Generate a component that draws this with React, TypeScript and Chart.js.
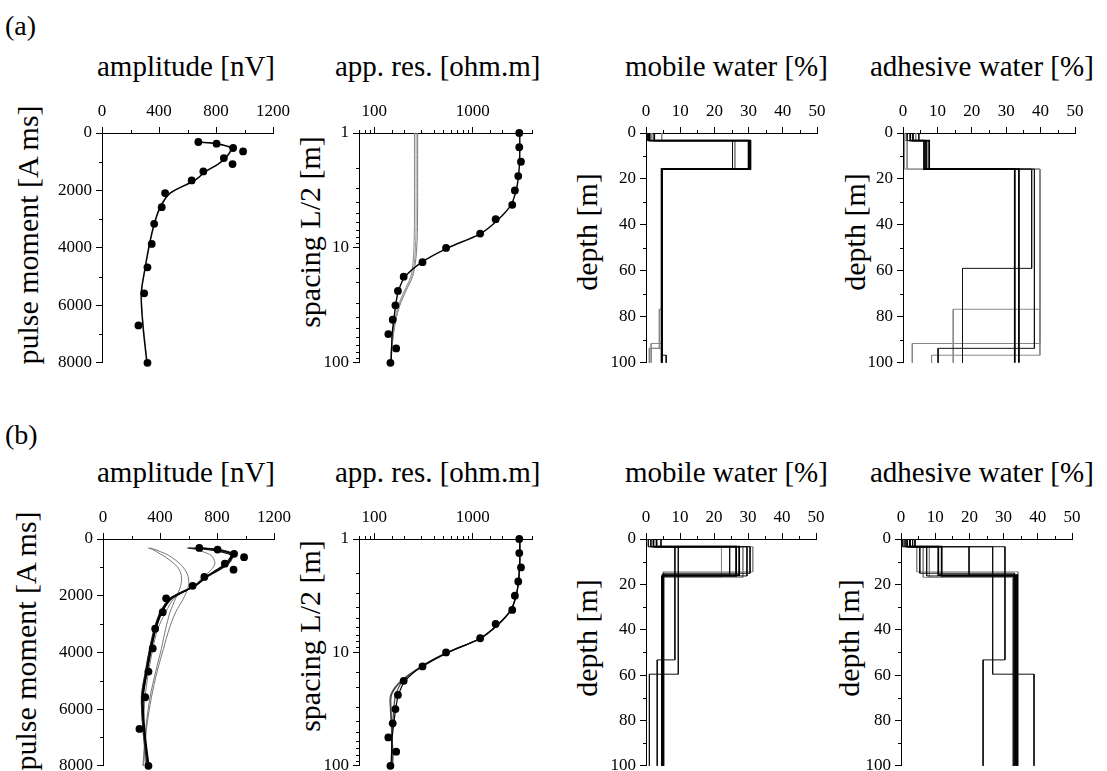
import React, { useEffect, useRef } from "react";
import { Chart, registerables } from "chart.js";
Chart.register(...registerables);

// ---------------- data ----------------
const PULSE_MOMENTS = [314, 372, 523, 640, 872, 1081, 1337, 1651, 2093, 2581, 3163, 3861, 4675, 5582, 6698, 8000];
const AMP_DATA = [676, 804, 920, 990, 855, 916, 711, 629, 443, 419, 366, 349, 319, 296, 256, 319];
const AMP_FIT_A1 = [676, 804, 915, 900, 866, 815, 728, 650, 478, 408, 366, 333, 303, 275, 287, 315];
const AMP_FIT_A2 = [680, 800, 905, 906, 872, 818, 730, 654, 482, 412, 370, 336, 306, 278, 290, 318];
const AMP_FIT_B1 = [676, 800, 915, 905, 870, 810, 725, 645, 478, 408, 366, 333, 303, 275, 287, 315];
const AMP_FIT_B2 = [640, 770, 900, 910, 880, 820, 730, 645, 475, 405, 362, 330, 300, 272, 280, 310];
const AMP_FIT_B3 = [600, 740, 885, 900, 875, 815, 728, 648, 480, 412, 370, 338, 308, 280, 285, 320];
const AMP_FIT_B4 = [690, 815, 925, 912, 865, 805, 720, 640, 470, 402, 360, 328, 298, 270, 283, 318];
const AMP_FIT_B5 = [660, 790, 905, 895, 860, 800, 722, 648, 485, 415, 372, 340, 310, 282, 292, 322];
const AMP_OUT_B1 = [316, 350, 400, 440, 500, 535, 551, 545, 510, 470, 440, 410, 370, 330, 300, 280];
const AMP_OUT_B2 = [330, 365, 440, 480, 540, 575, 598, 600, 565, 510, 465, 425, 380, 340, 305, 285];
const AMP_OUT_B3 = [586, 650, 740, 770, 785, 760, 705, 640, 500, 440, 385, 350, 320, 295, 285, 300];

const SPACINGS = [1, 1.33, 1.78, 2.37, 3.16, 4.22, 5.62, 7.5, 10, 13.3, 17.8, 23.7, 31.6, 42.2, 56.2, 75, 100];
const RES_DATA = [2970, 2970, 3090, 2900, 2680, 2520, 1710, 1190, 536, 309, 199, 174, 164, 154, 139, 167, 146];
const RES_FIT_A = [3000, 3010, 2990, 2920, 2760, 2450, 1830, 1200, 560, 305, 206, 176, 165, 158, 152, 150, 148];
const RES_GREY_A1 = [256, 256, 256, 256, 256, 256, 256, 255, 253, 248, 235, 202, 176, 162, 154, 149, 146];
const RES_GREY_A2 = [266, 266, 266, 266, 266, 266, 266, 265, 262, 256, 242, 208, 180, 165, 156, 151, 148];
const RES_GREY_A3 = [276, 276, 276, 276, 276, 276, 275, 274, 270, 262, 245, 210, 182, 166, 157, 151, 148];
const RES_FIT_B2 = [2990, 3000, 2985, 2915, 2750, 2440, 1820, 1195, 555, 300, 195, 165, 158, 154, 150, 152, 150];
const RES_FIT_B3 = [3005, 3015, 2995, 2925, 2765, 2455, 1840, 1205, 565, 310, 190, 150, 148, 150, 150, 153, 152];
const RES_FIT_B4 = [2995, 3005, 2990, 2920, 2760, 2450, 1830, 1200, 560, 302, 188, 147, 146, 149, 151, 155, 154];

// layered models: layer boundaries (depth, m) and water content per layer (%)
const MOB_A_BOUNDS = [
  [0, 3.3, 15.7, 100], [0, 3.3, 15.7, 100], [0, 3.3, 15.7, 76.7, 93.7, 100], [0, 3.3, 15.7, 100],
  [0, 3.3, 15.7, 91.6, 100], [0, 3.3, 15.7, 93.7, 100], [0, 3.3, 15.7, 96.7, 100],
];
const MOB_A_VALUES = [
  [2.4, 30.5, 4.6], [1.0, 30.0, 4.6], [1.7, 30.2, 4.6, 3.9, 1.0], [0.4, 25.3, 4.6],
  [4.6, 26.0, 4.6, 1.5], [1.2, 30.6, 4.6, 1.0], [0.8, 30.3, 4.6, 5.9],
];
const ADH_A_BOUNDS = [
  [0, 3.3, 15.7, 100], [0, 3.3, 15.7, 100], [0, 3.3, 15.7, 58.9, 100], [0, 3.3, 15.7, 76.7, 100],
  [0, 3.3, 15.7, 91.6, 100], [0, 3.3, 15.7, 93.7, 100], [0, 3.3, 15.7, 96.7, 100],
];
const ADH_A_VALUES = [
  [2.9, 7.6, 33.7], [2.1, 6.1, 32.5], [1.2, 6.5, 37.4, 17.3], [3.7, 7.0, 39.8, 14.6],
  [0.5, 1.2, 39.8, 2.7], [4.6, 6.8, 38.2, 10.2], [0.5, 0.4, 39.8, 8.3],
];
const MOB_B_BOUNDS = [
  [0, 3.4, 16.3, 100], [0, 3.4, 15.9, 100], [0, 3.4, 16.9, 100], [0, 3.4, 14.5, 100], [0, 3.4, 15.1, 100],
  [0, 3.4, 16.3, 100], [0, 3.4, 16.9, 100], [0, 3.4, 15.9, 100], [0, 3.4, 53.3, 100], [0, 3.4, 59.6, 100],
];
const MOB_B_VALUES = [
  [2.2, 26.5, 4.8], [3.1, 27.4, 4.9], [1.4, 22.2, 4.6], [0.7, 31.4, 5.0], [4.4, 30.6, 5.2],
  [2.2, 29.7, 4.7], [1.4, 28.5, 5.1], [3.1, 24.6, 4.9], [1.4, 8.5, 3.3], [0.7, 9.5, 1.0],
];
const ADH_B_BOUNDS = MOB_B_BOUNDS;
const ADH_B_VALUES = [
  [1.8, 11.9, 33.5], [2.6, 10.9, 34.0], [0.5, 8.3, 32.8], [4.1, 4.6, 34.2], [3.4, 5.5, 33.2],
  [1.2, 7.5, 33.0], [1.8, 6.5, 32.6], [2.6, 19.9, 33.8], [0.5, 30.4, 24.0], [4.1, 26.8, 38.9],
];
// line style class per model: 0 = bold black, 1 = thin black, 2 = grey
const MOB_A_STYLE = [0, 0, 2, 1, 2, 2, 1];
const ADH_A_STYLE = [0, 0, 1, 2, 2, 1, 2];
const MOB_B_STYLE = [0, 0, 2, 2, 1, 1, 2, 1, 1, 1];
const ADH_B_STYLE = [0, 0, 2, 2, 1, 1, 2, 1, 1, 1];

const TOP_TITLES = ["amplitude [nV]", "app. res. [ohm.m]", "mobile water [%]", "adhesive water [%]"];
const Y_TITLES = ["pulse moment [A ms]", "spacing L/2 [m]", "depth [m]", "depth [m]"];
const ROW_LABELS = ["(a)", "(b)"];

// ---------------- helpers ----------------
const FONT = '"Liberation Serif", "Times New Roman", serif';
const YW = 60, XH = 36, RP = 26, BP = 14;

type Pt = { x: number; y: number };
const zip = (xs: number[], ys: number[]): Pt[] => xs.map((x, i) => ({ x, y: ys[i] }));
const steps = (bounds: number[], vals: number[]): Pt[] => {
  const pts: Pt[] = [];
  vals.forEach((v, i) => {
    pts.push({ x: v, y: bounds[i] }, { x: v, y: bounds[i + 1] });
  });
  return pts;
};

const pointsDs = (data: Pt[]) => ({
  data, showLine: false, pointRadius: 3.9, pointBorderWidth: 0,
  backgroundColor: "#000", borderColor: "#000", clip: false,
});
const lineDs = (data: Pt[], color: string, width: number, tension = 0) => ({
  data, showLine: true, pointRadius: 0, borderColor: color, borderWidth: width,
  backgroundColor: color, tension, fill: false, clip: false,
});
const STYLE_COLORS = ["#000", "#111", "#888"];
const STYLE_WIDTHS = [1.8, 1, 1];
const modelSets = (bounds: number[][], values: number[][], style: number[]) =>
  values
    .map((v, i) => ({ i, s: style[i] }))
    .sort((a, b) => a.s - b.s)
    .map(({ i, s }) => lineDs(steps(bounds[i], values[i]), STYLE_COLORS[s], STYLE_WIDTHS[s]));

const isPow10 = (v: number) => Math.abs(Math.log10(v) - Math.round(Math.log10(v))) < 1e-6;

type AxisSpec = { type: "linear" | "logarithmic"; min: number; max: number; step?: number; every?: number };

const tickFont = { family: FONT, size: 17 };

const isMajor = (a: AxisSpec, n: number) =>
  a.type === "logarithmic" ? isPow10(n) : Math.abs(n % (a.every as number)) < 1e-9;

function makeAxis(a: AxisSpec, horizontal: boolean) {
  const cb = (v: any) => {
    const n = Number(v);
    if (!isMajor(a, n)) return "";
    return a.type === "logarithmic" ? String(Math.round(n)) : String(n);
  };
  return {
    type: a.type,
    position: horizontal ? "top" : "left",
    reverse: !horizontal,
    min: a.min,
    max: a.max,
    grid: {
      display: true, drawOnChartArea: false, drawTicks: true, tickLength: horizontal ? 6 : 6,
      color: "#000", lineWidth: 1,
      tickColor: (c: any) => (c.tick && isMajor(a, Number(c.tick.value)) ? "#000" : "rgba(0,0,0,0)"),
    },
    border: { display: true, color: "#000", width: 1 },
    ticks: {
      autoSkip: false, maxRotation: 0, minRotation: 0, color: "#000", font: tickFont,
      padding: horizontal ? 5 : 4,
      ...(a.step ? { stepSize: a.step } : {}),
      callback: cb,
    },
    afterFit: (s: any) => {
      if (horizontal) s.height = XH;
      else s.width = YW;
    },
  };
}

// short minor ticks drawn at the library's own tick positions
const minorTicks = {
  id: "minorTicks",
  afterDraw(chart: any) {
    const ctx = chart.ctx;
    const area = chart.chartArea;
    ctx.save();
    ctx.strokeStyle = "#000";
    ctx.lineWidth = 1;
    ["x", "y"].forEach((id) => {
      const s = chart.scales[id];
      s.ticks.forEach((t: any) => {
        if (t.label !== "" && t.label !== undefined) return;
        const p = Math.round(s.getPixelForValue(t.value)) + 0.5;
        ctx.beginPath();
        if (id === "x") {
          ctx.moveTo(p, area.top);
          ctx.lineTo(p, area.top - 3);
        } else {
          ctx.moveTo(area.left, p);
          ctx.lineTo(area.left - 3, p);
        }
        ctx.stroke();
      });
    });
    ctx.restore();
  },
};

type PanelSpec = {
  left: number; right: number; top: number; bottom: number;
  x: AxisSpec; y: AxisSpec; datasets: any[];
};

function Plot({ p }: { p: PanelSpec }) {
  const ref = useRef<HTMLCanvasElement>(null);
  const w = p.right - p.left + YW + RP;
  const h = p.bottom - p.top + XH + BP;
  useEffect(() => {
    const chart = new Chart(ref.current as HTMLCanvasElement, {
      type: "scatter",
      data: { datasets: p.datasets },
      plugins: [minorTicks],
      options: {
        responsive: false,
        animation: false,
        devicePixelRatio: 1,
        events: [],
        layout: { padding: { left: 0, top: 0, right: RP, bottom: BP } },
        plugins: { legend: { display: false }, tooltip: { enabled: false }, title: { display: false } },
        scales: { x: makeAxis(p.x, true), y: makeAxis(p.y, false) },
      } as any,
    } as any);
    return () => chart.destroy();
  }, []);
  return (
    <canvas
      ref={ref}
      width={w}
      height={h}
      style={{ position: "absolute", left: p.left - YW, top: p.top - XH, width: w, height: h }}
    />
  );
}

// ---------------- layout ----------------
const ROWS = [
  { top: 133, bottom: 363, cols: [[102, 273], [359, 532], [646, 817], [903, 1075]] },
  { top: 539, bottom: 766, cols: [[103, 274], [359, 532], [646, 816], [901, 1072]] },
];
const AMP_AXIS: AxisSpec = { type: "linear", min: 0, max: 1200, step: 200, every: 400 };
const PM_AXIS: AxisSpec = { type: "linear", min: 0, max: 8000, step: 1000, every: 2000 };
const RES_AXIS: AxisSpec = { type: "logarithmic", min: 70, max: 4000 };
const SP_AXIS: AxisSpec = { type: "logarithmic", min: 1, max: 100 };
const WC_AXIS: AxisSpec = { type: "linear", min: 0, max: 50, step: 5, every: 10 };
const DEPTH_AXIS: AxisSpec = { type: "linear", min: 0, max: 100, step: 10, every: 20 };

function buildPanels(): PanelSpec[] {
  const ampPts = zip(AMP_DATA, PULSE_MOMENTS);
  const resPts = zip(RES_DATA, SPACINGS);
  const sets = [
    [
      [pointsDs(ampPts), lineDs(zip(AMP_FIT_A1, PULSE_MOMENTS), "#000", 1.4, 0.3), lineDs(zip(AMP_FIT_A2, PULSE_MOMENTS), "#777", 1, 0.3)],
      [pointsDs(resPts), lineDs(zip(RES_FIT_A, SPACINGS), "#000", 1.4, 0.3),
        lineDs(zip(RES_GREY_A1, SPACINGS), "#888", 1, 0.3), lineDs(zip(RES_GREY_A2, SPACINGS), "#999", 1, 0.3), lineDs(zip(RES_GREY_A3, SPACINGS), "#777", 1, 0.3)],
      modelSets(MOB_A_BOUNDS, MOB_A_VALUES, MOB_A_STYLE),
      modelSets(ADH_A_BOUNDS, ADH_A_VALUES, ADH_A_STYLE),
    ],
    [
      [pointsDs(ampPts),
        ...[AMP_FIT_B1, AMP_FIT_B2, AMP_FIT_B3, AMP_FIT_B4, AMP_FIT_B5].map((f, i) => lineDs(zip(f, PULSE_MOMENTS), i % 2 ? "#333" : "#000", 1.3, 0.3)),
        ...[AMP_OUT_B1, AMP_OUT_B2, AMP_OUT_B3].map((f) => lineDs(zip(f, PULSE_MOMENTS), "#666", 0.9, 0.3))],
      [pointsDs(resPts),
        ...[RES_FIT_A, RES_FIT_B2, RES_FIT_B3, RES_FIT_B4].map((f, i) => lineDs(zip(f, SPACINGS), i ? "#444" : "#000", 1.2, 0.3))],
      modelSets(MOB_B_BOUNDS, MOB_B_VALUES, MOB_B_STYLE),
      modelSets(ADH_B_BOUNDS, ADH_B_VALUES, ADH_B_STYLE),
    ],
  ];
  const axes: [AxisSpec, AxisSpec][] = [[AMP_AXIS, PM_AXIS], [RES_AXIS, SP_AXIS], [WC_AXIS, DEPTH_AXIS], [WC_AXIS, DEPTH_AXIS]];
  const out: PanelSpec[] = [];
  ROWS.forEach((r, ri) => {
    r.cols.forEach((c, ci) => {
      out.push({ left: c[0], right: c[1], top: r.top, bottom: r.bottom, x: axes[ci][0], y: axes[ci][1], datasets: sets[ri][ci] });
    });
  });
  return out;
}

const TITLE_X = [97, 335, 625, 870];
const YTITLE_X = [[28, 310, 587, 855], [26, 310, 587, 849]];
const YTITLE_Y = [[235, 232, 232, 232], [641, 636, 638, 638]];
const TITLE_TOP = [52, 458];
const LABEL_TOP = [12, 421];

export default function App() {
  const panels = buildPanels();
  const txt: React.CSSProperties = { position: "absolute", fontFamily: FONT, color: "#000", whiteSpace: "nowrap", lineHeight: 1 };
  return (
    <div style={{ position: "fixed", left: 0, top: 0, width: 1107, height: 771, background: "#fff", overflow: "hidden" }}>
      {ROW_LABELS.map((l, ri) => (
        <div key={"l" + ri} style={{ ...txt, left: 5, top: LABEL_TOP[ri], fontSize: 28 }}>{l}</div>
      ))}
      {ROWS.map((_, ri) =>
        TOP_TITLES.map((t, ci) => (
          <div key={`t${ri}${ci}`} style={{ ...txt, left: TITLE_X[ci], top: TITLE_TOP[ri], fontSize: 29 }}>{t}</div>
        ))
      )}
      {ROWS.map((_, ri) =>
        Y_TITLES.map((t, ci) => (
          <div
            key={`y${ri}${ci}`}
            style={{ ...txt, left: YTITLE_X[ri][ci], top: YTITLE_Y[ri][ci], fontSize: 30, transform: "translate(-50%, -50%) rotate(-90deg)" }}
          >
            {t}
          </div>
        ))
      )}
      {panels.map((p, i) => (
        <Plot key={i} p={p} />
      ))}
    </div>
  );
}
